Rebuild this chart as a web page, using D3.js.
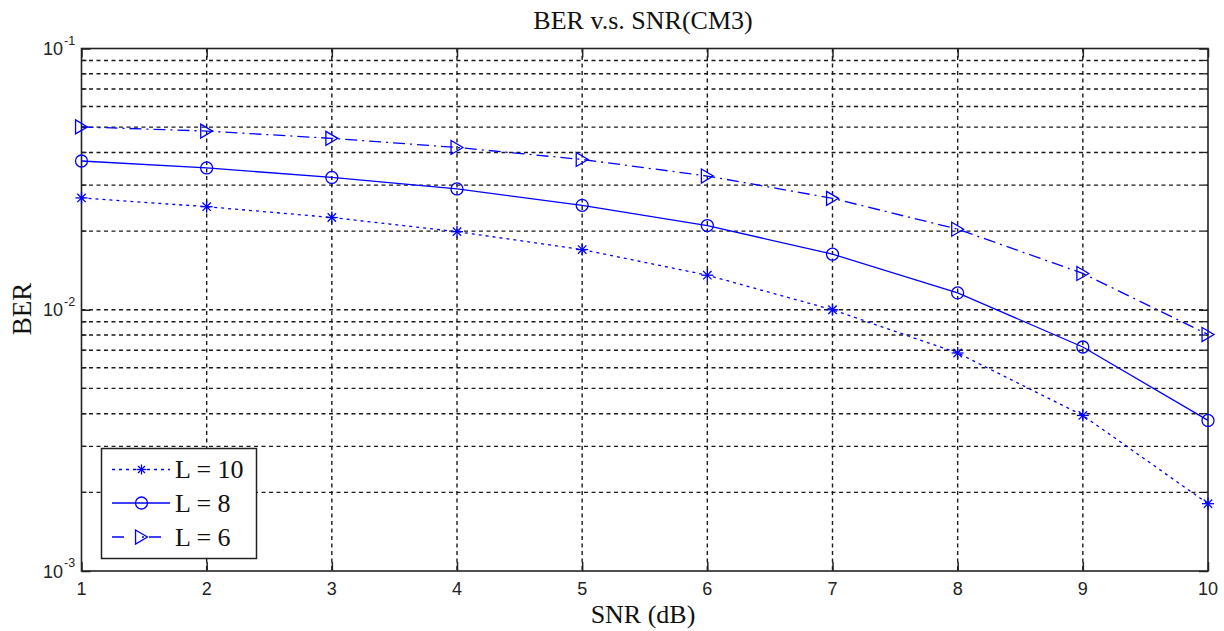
<!DOCTYPE html>
<html><head><meta charset="utf-8">
<script src="https://cdn.jsdelivr.net/npm/d3@7/dist/d3.min.js"></script>
<style>html,body{margin:0;padding:0;background:#fff;}svg{display:block;}</style>
</head><body>
<svg id="chart" width="1224" height="631"></svg>
<script>
const snr = [1,2,3,4,5,6,7,8,9,10];
const berL10 = [0.0268,0.0248,0.02255,0.0199,0.0170,0.01356,0.0100,0.00683,0.00394,0.00181];
const berL8  = [0.0371,0.0349,0.0321,0.0290,0.0251,0.0210,0.01632,0.0116,0.0072,0.00377];
const berL6  = [0.0501,0.0483,0.0453,0.0418,0.0376,0.0325,0.0267,0.02034,0.01377,0.00804];
const seriesNames = ["L = 10","L = 8","L = 6"];
const xTicks = [1,2,3,4,5,6,7,8,9,10];
const yMajor = [1e-3,1e-2,1e-1];
const yExpLabels = ["-3","-2","-1"];
const titleText = "BER v.s. SNR(CM3)";
const xLabel = "SNR (dB)";
const yLabel = "BER";

const svg = d3.select("#chart");
const L = 81.5, R = 1208, T = 48.5, B = 571;
const x = d3.scaleLinear().domain([1,10]).range([L,R]);
const y = d3.scaleLog().domain([1e-3,1e-1]).range([B,T]);
const blue = "#0000ff";
const serif = "'Liberation Serif','Times New Roman',serif";
const sans = "'Liberation Sans',Arial,sans-serif";

// minor+major grid values
const yGrid = [];
for (let e=-3; e<-1; e++) for (let m=1; m<10; m++) yGrid.push(m*Math.pow(10,e));
yGrid.push(1e-1);

const g = svg.append("g");
// horizontal grid
g.selectAll("line.hg").data(yGrid.filter(v=>v>1e-3 && v<1e-1)).enter().append("line")
  .attr("x1",L).attr("x2",R).attr("y1",d=>y(d)).attr("y2",d=>y(d))
  .attr("stroke","#1a1a1a").attr("stroke-width",1.4).attr("stroke-dasharray","4,3.5");
// vertical grid
g.selectAll("line.vg").data(xTicks.slice(1,-1)).enter().append("line")
  .attr("x1",d=>x(d)).attr("x2",d=>x(d)).attr("y1",T).attr("y2",B)
  .attr("stroke","#1a1a1a").attr("stroke-width",1.4).attr("stroke-dasharray","4,3.5");

// axes with inward ticks
const xAxisB = d3.axisBottom(x).tickValues(xTicks).tickSize(-9).tickFormat("");
const xAxisT = d3.axisTop(x).tickValues(xTicks).tickSize(-9).tickFormat("");
const yAxisL = d3.axisLeft(y).tickValues(yMajor).tickSize(-9).tickFormat("");
const yAxisR = d3.axisRight(y).tickValues(yMajor).tickSize(-9).tickFormat("");
function styleAxis(sel){ sel.selectAll("path").remove(); sel.selectAll("line").attr("stroke","#222").attr("stroke-width",1.5); }
svg.append("g").attr("transform",`translate(0,${B})`).call(xAxisB).call(styleAxis);
svg.append("g").attr("transform",`translate(0,${T})`).call(xAxisT).call(styleAxis);
svg.append("g").attr("transform",`translate(${L},0)`).call(yAxisL).call(styleAxis);
svg.append("g").attr("transform",`translate(${R},0)`).call(yAxisR).call(styleAxis);

// minor y ticks
const yMinor = yGrid.filter(v=>yMajor.indexOf(v)<0);
svg.selectAll("line.mt").data(yMinor).enter().append("line")
  .attr("x1",L).attr("x2",L+5).attr("y1",d=>y(d)).attr("y2",d=>y(d)).attr("stroke","#222").attr("stroke-width",1.3);
svg.selectAll("line.mt2").data(yMinor).enter().append("line")
  .attr("x1",R-5).attr("x2",R).attr("y1",d=>y(d)).attr("y2",d=>y(d)).attr("stroke","#222").attr("stroke-width",1.3);

// box
svg.append("rect").attr("x",L).attr("y",T).attr("width",R-L).attr("height",B-T)
  .attr("fill","none").attr("stroke","#222").attr("stroke-width",1.6);

// tick labels
svg.selectAll("text.xt").data(xTicks).enter().append("text")
  .attr("x",d=>x(d)).attr("y",595).attr("text-anchor","middle")
  .attr("font-family",sans).attr("font-size",18).attr("fill","#222").text(d=>d);
yMajor.forEach((v,i)=>{
  const t = svg.append("text").attr("x",63).attr("y",y(v)+6.5).attr("text-anchor","end")
    .attr("font-family",sans).attr("font-size",18).attr("fill","#222");
  t.text("10");
  svg.append("text").attr("x",64).attr("y",y(v)-4).attr("text-anchor","start")
    .attr("font-family",sans).attr("font-size",12.5).attr("fill","#222").text(yExpLabels[i]);
});

// labels
svg.append("text").attr("x",643).attr("y",29).attr("text-anchor","middle")
  .attr("font-family",serif).attr("font-size",26).attr("fill","#111").text(titleText);
svg.append("text").attr("x",643).attr("y",623).attr("text-anchor","middle")
  .attr("font-family",serif).attr("font-size",26).attr("fill","#111").text(xLabel);
svg.append("text").attr("transform","translate(31,309) rotate(-90)").attr("text-anchor","middle")
  .attr("font-family",serif).attr("font-size",27).attr("fill","#111").text(yLabel);

// markers
function star(sel, cx, cy, s){
  const gg = sel.append("g").attr("transform",`translate(${cx},${cy})`).attr("stroke",blue).attr("stroke-width",1.3);
  gg.append("line").attr("x1",-s).attr("x2",s).attr("y1",0).attr("y2",0);
  gg.append("line").attr("x1",0).attr("x2",0).attr("y1",-s).attr("y2",s);
  const d = s*0.7;
  gg.append("line").attr("x1",-d).attr("x2",d).attr("y1",-d).attr("y2",d);
  gg.append("line").attr("x1",-d).attr("x2",d).attr("y1",d).attr("y2",-d);
}
function circ(sel,cx,cy,r){
  sel.append("circle").attr("cx",cx).attr("cy",cy).attr("r",r).attr("fill","none").attr("stroke",blue).attr("stroke-width",1.3);
}
function tri(sel,cx,cy,s){
  sel.append("path").attr("d",`M${cx-s*0.85},${cy-s} L${cx+s*0.85},${cy} L${cx-s*0.85},${cy+s} Z`)
    .attr("fill","none").attr("stroke",blue).attr("stroke-width",1.3);
}

const series = [
  {name:seriesNames[0], vals:berL10, dash:"3,4", marker:"star"},
  {name:seriesNames[1], vals:berL8, dash:null, marker:"circ"},
  {name:seriesNames[2], vals:berL6, dash:"12,5,2,5", marker:"tri"}
];
const line = d3.line().x(d=>x(d[0])).y(d=>y(d[1]));
const plot = svg.append("g");
series.forEach(s=>{
  const pts = snr.map((v,i)=>[v,s.vals[i]]);
  const p = plot.append("path").attr("d",line(pts)).attr("fill","none").attr("stroke",blue).attr("stroke-width",1.3);
  if (s.dash) p.attr("stroke-dasharray",s.dash);
  pts.forEach(pt=>{
    const cx=x(pt[0]), cy=y(pt[1]);
    if (s.marker==="star") star(plot,cx,cy,6);
    else if (s.marker==="circ") circ(plot,cx,cy,6);
    else tri(plot,cx,cy,7);
  });
});

// legend
const lg = svg.append("g");
lg.append("rect").attr("x",101.5).attr("y",448.5).attr("width",155).attr("height",110)
  .attr("fill","#fff").attr("stroke","#222").attr("stroke-width",1.5);
const rowsY = [469.5,503,537];
series.forEach((s,i)=>{
  const ly = rowsY[i];
  const l = lg.append("line").attr("x1",112).attr("x2",170).attr("y1",ly).attr("y2",ly)
    .attr("stroke",blue).attr("stroke-width",1.3);
  if (s.dash) l.attr("stroke-dasharray", i===0 ? "3,4" : "12,18,2,5");
  if (s.marker==="star") star(lg,141.5,ly,5);
  else if (s.marker==="circ") circ(lg,141.5,ly,6);
  else tri(lg,141.5,ly,7);
  lg.append("text").attr("x",175).attr("y",ly+8.5).attr("font-family",serif).attr("font-size",26)
    .attr("fill","#111").text(s.name);
});
</script>
</body></html>
